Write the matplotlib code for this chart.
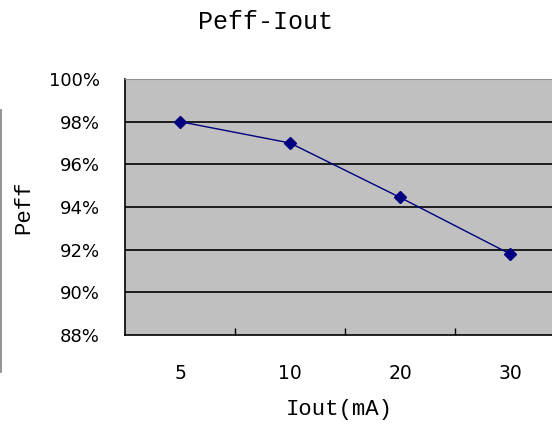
import matplotlib
matplotlib.use("Agg")
import matplotlib.pyplot as plt
from matplotlib.ticker import FuncFormatter, FixedLocator
from matplotlib.lines import Line2D

categories = ["5", "10", "20", "30"]
peff = [98.0, 97.0, 94.45, 91.8]
yticks = [88, 90, 92, 94, 96, 98, 100]

fig = plt.figure(figsize=(5.52, 4.24), dpi=100)
ax = fig.add_axes([125/552, 1-335/424, 440/552, 256/424])
ax.set_facecolor("#C0C0C0")

x = list(range(len(categories)))
ax.plot(x, peff, color="#000080", lw=1.0, marker="D", ms=6.5, mfc="#000080", mec="#000080", zorder=3)

ax.set_xlim(-0.5, len(categories)-0.5)
ax.set_ylim(88, 100)
ax.set_yticks(yticks)
ax.yaxis.set_major_formatter(FuncFormatter(lambda v, p: f"{int(v)}%"))
for v in yticks[1:-1]:
    ax.axhline(v, color="black", lw=1.2, zorder=1)

ax.set_xticks(x)
ax.set_xticklabels(categories)
ax.xaxis.set_minor_locator(FixedLocator([i+0.5 for i in range(len(categories)-1)]))
ax.tick_params(axis="x", which="major", length=0, pad=21, labelsize=13.5)
ax.tick_params(axis="x", which="minor", direction="in", length=5, width=1, color="black")
ax.tick_params(axis="y", length=0, pad=18, labelsize=13)

for s in ["left", "bottom"]:
    ax.spines[s].set_color("black")
    ax.spines[s].set_linewidth(1.2)
ax.spines["top"].set_color("#909090")
ax.spines["right"].set_visible(False)

fig.text(266/552, 1-22/424, "Peff-Iout", ha="center", va="center", family="Liberation Mono", fontsize=18)
fig.text(24/552, 1-207/424, "Peff", ha="center", va="center", rotation=90, family="Liberation Mono", fontsize=16)
fig.text(339/552, 1-410/424, "Iout(mA)", ha="center", va="center", family="Liberation Mono", fontsize=16)

fig.add_artist(Line2D([0.8/552, 0.8/552], [1-110/424, 1-372/424], color="#808080", lw=1.2, transform=fig.transFigure))

fig.savefig("out.png", dpi=100)
